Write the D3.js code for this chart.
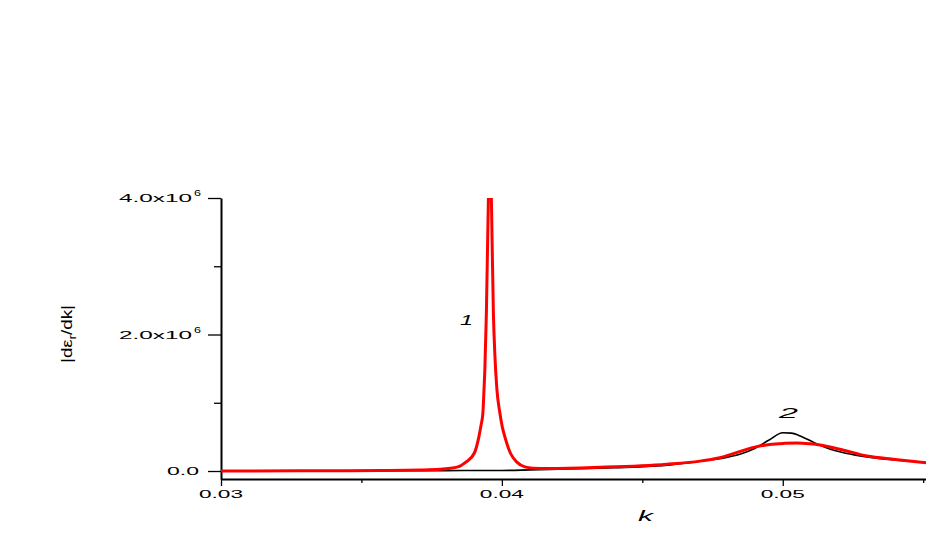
<!DOCTYPE html>
<html><head><meta charset="utf-8">
<script src="https://cdn.jsdelivr.net/npm/d3@7"></script>
<style>
body{margin:0;background:#fff;}
svg{display:block;font-family:"Liberation Sans",Arial,sans-serif;}
</style></head>
<body><svg id="c" width="926" height="545"></svg>
<script>
// ---- data ----
const kCurve1 = [0.0300,0.03281,0.03566,0.03708,0.03779,0.038434,0.038719,0.039021,0.039181,0.039253,0.039324,0.039359,0.039395,0.039448,0.039520,0.039573,0.039626,0.039698,0.039751,0.039822,0.039929,0.040018,0.040107,0.040302,0.040534,0.040819,0.041103,0.041708,0.04349,0.04587,0.04705,0.04776,0.0490,0.04954,0.05007,0.0505,0.05096,0.05121,0.05203,0.0530,0.0540,0.0551];
const vCurve1 = [0.000e6,0.003e6,0.008e6,0.015e6,0.025e6,0.06e6,0.13e6,0.264e6,0.50e6,0.66e6,0.85e6,1.15e6,1.5e6,2.31e6,4.0e6,5.0e6,4.0e6,2.31e6,1.7e6,1.2e6,0.85e6,0.64e6,0.50e6,0.264e6,0.13e6,0.06e6,0.042e6,0.036e6,0.054e6,0.10e6,0.145e6,0.195e6,0.35e6,0.39e6,0.405e6,0.41e6,0.40e6,0.39e6,0.32e6,0.22e6,0.17e6,0.12e6];
const kCurve2 = [0.0300,0.0340,0.0380,0.0400,0.0420,0.0440,0.0460,0.0470,0.0480,0.0485,0.0490,0.0495,0.0500,0.0503,0.0507,0.0512,0.0517,0.0525,0.0535,0.0545,0.0551];
const vCurve2 = [0.000e6,0.003e6,0.006e6,0.008e6,0.028e6,0.048e6,0.09e6,0.14e6,0.20e6,0.25e6,0.33e6,0.45e6,0.56e6,0.555e6,0.50e6,0.40e6,0.32e6,0.24e6,0.18e6,0.145e6,0.125e6];
const xMajorTicks = [0.03,0.04,0.05];
const xTickLabels = ["0.03","0.04","0.05"];
const xMinorTicks = [0.035,0.045,0.055];
const yMajorTicks = [0,2e6,4e6];
const yTickMant = ["0.0","2.0x10","4.0x10"];
const yTickExp = ["","6","6"];
const yMinorTicks = [1e6,3e6];
const curveLabels = ["1","2"];

const svg = d3.select("#c");
const x = d3.scaleLinear().domain([0.03,0.0551]).range([221,926]);
const y = d3.scaleLinear().domain([-0.117e6,4.0e6]).range([479,198]);

svg.append("defs").append("clipPath").attr("id","clip")
  .append("rect").attr("x",221).attr("y",198).attr("width",705).attr("height",281);

// axes
const yMinor = svg.append("g").attr("transform","translate(221,0)")
  .call(d3.axisLeft(y).tickValues(yMinorTicks).tickSize(7).tickSizeOuter(0).tickFormat(""));
yMinor.select(".domain").remove();
const yMaj = svg.append("g").attr("transform","translate(221,0)")
  .call(d3.axisLeft(y).tickValues(yMajorTicks).tickSize(13).tickSizeOuter(0).tickFormat(""));
yMaj.select(".domain").attr("stroke","#000").attr("stroke-width",2);

const xMinor = svg.append("g").attr("transform","translate(0,479)")
  .call(d3.axisBottom(x).tickValues(xMinorTicks).tickSize(4).tickSizeOuter(0).tickFormat(""));
xMinor.select(".domain").remove();
const xMaj = svg.append("g").attr("transform","translate(0,479)")
  .call(d3.axisBottom(x).tickValues(xMajorTicks).tickSize(7).tickSizeOuter(0).tickFormat(""));
xMaj.select(".domain").attr("stroke","#000").attr("stroke-width",2);
svg.selectAll(".tick line").attr("stroke","#000").attr("stroke-width",1.3);

// x tick labels (wide lettering)
xMajorTicks.forEach((v,i)=>{
  svg.append("text").attr("x",x(v)-22).attr("y",498)
    .attr("font-size",11.5).attr("textLength",44).attr("lengthAdjust","spacingAndGlyphs")
    .attr("fill","#000").text(xTickLabels[i]);
});

// y tick labels
yMajorTicks.forEach((v,i)=>{
  const base = y(v)+4;
  if (yTickExp[i]) {
    svg.append("text").attr("x",119).attr("y",base).attr("font-size",11.5)
      .attr("textLength",73).attr("lengthAdjust","spacingAndGlyphs").text(yTickMant[i]);
    svg.append("text").attr("x",194).attr("y",base-6).attr("font-size",8.5)
      .attr("textLength",7).attr("lengthAdjust","spacingAndGlyphs").text(yTickExp[i]);
  } else {
    svg.append("text").attr("x",167).attr("y",base).attr("font-size",11.5)
      .attr("textLength",32).attr("lengthAdjust","spacingAndGlyphs").text(yTickMant[i]);
  }
});

// lines
const line = (ks,vs)=> d3.line().x(d=>x(d[0])).y(d=>y(d[1])).curve(d3.curveMonotoneX)(d3.zip(ks,vs));
const g = svg.append("g").attr("clip-path","url(#clip)");
g.append("path").attr("d",line(kCurve2,vCurve2)).attr("fill","none").attr("stroke","#000").attr("stroke-width",1.6);
g.append("path").attr("d",line(kCurve1,vCurve1)).attr("fill","none").attr("stroke","#ff0000").attr("stroke-width",3)
  .attr("stroke-linejoin","round");

// curve labels
svg.append("text").attr("x",460).attr("y",325).attr("font-size",14).attr("font-style","italic")
  .attr("textLength",13).attr("lengthAdjust","spacingAndGlyphs").text(curveLabels[0]);
svg.append("text").attr("x",779).attr("y",418).attr("font-size",14).attr("font-style","italic")
  .attr("textLength",19).attr("lengthAdjust","spacingAndGlyphs").text(curveLabels[1]);

// axis titles
svg.append("text").attr("x",638).attr("y",521).attr("font-size",14).attr("font-style","italic")
  .attr("textLength",15).attr("lengthAdjust","spacingAndGlyphs").text("k");
const yt = svg.append("text").attr("transform","translate(72,363) rotate(-90)")
  .attr("font-size",15).attr("textLength",58).attr("lengthAdjust","spacingAndGlyphs");
yt.append("tspan").text("|dε");
yt.append("tspan").attr("dy",4).attr("font-size",10).text("r");
yt.append("tspan").attr("dy",-4).text("/dk|");
</script></body></html>
